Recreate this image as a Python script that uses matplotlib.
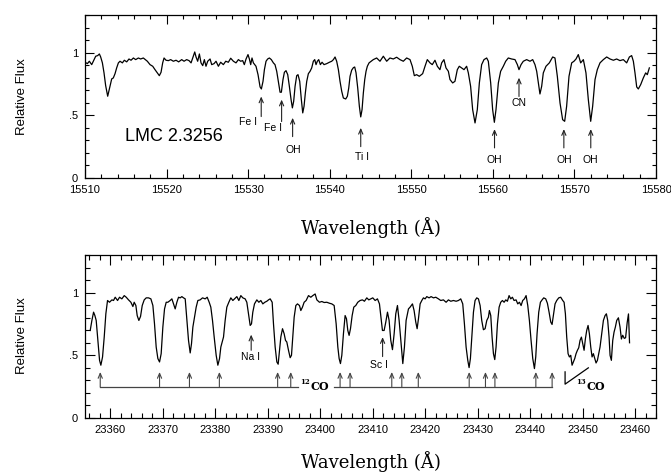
import matplotlib
matplotlib.use("Agg")
import matplotlib.pyplot as plt
from matplotlib.ticker import MultipleLocator, FixedLocator, FormatStrFormatter, FuncFormatter

plt.rcParams['font.family'] = ['Liberation Sans', 'DejaVu Sans']

# H-band spectrum, LMC 2.3256
h_wave = [
    15510.00, 15510.29, 15510.53, 15510.82, 15511.02, 15511.31, 15511.55, 15511.76, 15511.92, 15512.13,
    15512.33, 15512.53, 15512.78, 15513.02, 15513.27, 15513.47, 15513.68, 15513.88, 15514.09, 15514.29,
    15514.58, 15514.82, 15515.11, 15515.39, 15515.64, 15515.93, 15516.21, 15516.54, 15516.82, 15517.15,
    15517.40, 15517.64, 15517.97, 15518.30, 15518.58, 15518.87, 15519.11, 15519.32, 15519.52, 15519.69,
    15519.93, 15520.22, 15520.50, 15520.83, 15521.16, 15521.48, 15521.85, 15522.14, 15522.46, 15522.75,
    15523.00, 15523.20, 15523.45, 15523.61, 15523.81, 15524.02, 15524.22, 15524.43, 15524.63, 15524.83,
    15525.04, 15525.33, 15525.53, 15525.82, 15526.06, 15526.35, 15526.63, 15526.96, 15527.25, 15527.57,
    15527.86, 15528.19, 15528.51, 15528.80, 15529.08, 15529.33, 15529.53, 15529.74, 15529.98, 15530.15,
    15530.31, 15530.47, 15530.64, 15530.96, 15531.21, 15531.46, 15531.62, 15531.82, 15531.99, 15532.19,
    15532.39, 15532.60, 15532.84, 15533.09, 15533.29, 15533.50, 15533.70, 15533.91, 15534.07, 15534.27,
    15534.44, 15534.64, 15534.85, 15535.05, 15535.26, 15535.42, 15535.58, 15535.75, 15535.95, 15536.11,
    15536.32, 15536.52, 15536.69, 15536.85, 15537.01, 15537.18, 15537.38, 15537.59, 15537.79, 15537.99,
    15538.16, 15538.32, 15538.48, 15538.65, 15538.85, 15539.06, 15539.30, 15539.63, 15539.96, 15540.24,
    15540.45, 15540.65, 15540.85, 15541.06, 15541.26, 15541.47, 15541.67, 15541.96, 15542.16, 15542.33,
    15542.49, 15542.69, 15542.90, 15543.06, 15543.22, 15543.43, 15543.63, 15543.80, 15543.96, 15544.12,
    15544.29, 15544.45, 15544.61, 15544.82, 15545.34, 15545.75, 15546.16, 15546.57, 15546.98, 15547.38,
    15547.79, 15548.20, 15548.61, 15549.02, 15549.43, 15549.84, 15550.12, 15550.37, 15550.65, 15550.98,
    15551.39, 15551.68, 15551.96, 15552.29, 15552.57, 15552.90, 15553.19, 15553.51, 15553.72, 15554.00,
    15554.25, 15554.54, 15554.74, 15555.07, 15555.35, 15555.64, 15555.88, 15556.17, 15556.46, 15556.78,
    15556.99, 15557.27, 15557.52, 15557.81, 15558.09, 15558.34, 15558.62, 15558.91, 15559.24, 15559.44,
    15559.73, 15559.97, 15560.18, 15560.38, 15560.67, 15560.95, 15561.28, 15561.57, 15561.89, 15562.30,
    15562.71, 15563.00, 15563.20, 15563.45, 15563.73, 15564.14, 15564.55, 15564.88, 15565.16, 15565.37,
    15565.57, 15565.77, 15565.98, 15566.18, 15566.51, 15566.92, 15567.33, 15567.61, 15567.90, 15568.23,
    15568.55, 15568.80, 15569.04, 15569.33, 15569.66, 15569.94, 15570.19, 15570.47, 15570.76, 15571.09,
    15571.41, 15571.70, 15571.99, 15572.23, 15572.52, 15572.80, 15573.13, 15573.54, 15573.95, 15574.36,
    15574.77, 15575.17, 15575.58, 15575.99, 15576.40, 15576.73, 15577.01, 15577.22, 15577.42, 15577.63,
    15577.83, 15578.12, 15578.44, 15578.73, 15578.93, 15579.18,
]
h_flux = [
    0.923, 0.912, 0.931, 0.904, 0.931, 0.971, 0.976, 0.989, 0.965, 0.918,
    0.838, 0.737, 0.652, 0.718, 0.790, 0.798, 0.832, 0.878, 0.918, 0.931,
    0.918, 0.939, 0.926, 0.949, 0.939, 0.957, 0.944, 0.957, 0.949, 0.957,
    0.944, 0.931, 0.904, 0.891, 0.864, 0.838, 0.816, 0.843, 0.918, 0.957,
    0.939, 0.936, 0.944, 0.931, 0.939, 0.926, 0.944, 0.931, 0.944, 0.936,
    0.918, 0.957, 1.005, 0.965, 0.931, 0.989, 0.918, 0.896, 0.944, 0.891,
    0.931, 0.949, 0.904, 0.912, 0.931, 0.891, 0.923, 0.904, 0.931, 0.923,
    0.955, 0.931, 0.918, 0.944, 0.931, 0.936, 0.904, 0.949, 0.984, 0.949,
    0.904, 0.957, 0.918, 0.891, 0.824, 0.726, 0.710, 0.771, 0.864, 0.931,
    0.949, 0.957, 0.944, 0.918, 0.904, 0.851, 0.771, 0.684, 0.684, 0.785,
    0.843, 0.856, 0.824, 0.731, 0.625, 0.559, 0.612, 0.731, 0.816, 0.824,
    0.771, 0.625, 0.519, 0.572, 0.678, 0.771, 0.832, 0.851, 0.878, 0.931,
    0.944, 0.904, 0.931, 0.944, 0.904, 0.923, 0.904, 0.912, 0.923, 0.931,
    0.944, 0.965, 0.931, 0.864, 0.771, 0.691, 0.638, 0.630, 0.652, 0.718,
    0.811, 0.860, 0.880, 0.885, 0.840, 0.718, 0.572, 0.487, 0.545, 0.678,
    0.785, 0.851, 0.891, 0.918, 0.944, 0.957, 0.931, 0.971, 0.931, 0.957,
    0.949, 0.963, 0.944, 0.931, 0.957, 0.944, 0.891, 0.816, 0.824, 0.811,
    0.832, 0.891, 0.944, 0.918, 0.904, 0.939, 0.891, 0.864, 0.918, 0.944,
    0.878, 0.851, 0.785, 0.758, 0.771, 0.864, 0.891, 0.878, 0.864, 0.891,
    0.838, 0.731, 0.545, 0.439, 0.545, 0.758, 0.904, 0.944, 0.957, 0.931,
    0.758, 0.545, 0.444, 0.545, 0.758, 0.851, 0.891, 0.931, 0.957, 0.949,
    0.944, 0.904, 0.864, 0.904, 0.931, 0.944, 0.931, 0.944, 0.904, 0.851,
    0.758, 0.670, 0.731, 0.838, 0.891, 0.918, 0.965, 0.957, 0.811, 0.598,
    0.465, 0.452, 0.572, 0.811, 0.918, 0.931, 0.949, 0.984, 0.918, 0.944,
    0.838, 0.625, 0.452, 0.572, 0.785, 0.864, 0.918, 0.944, 0.965, 0.949,
    0.939, 0.949, 0.936, 0.944, 0.918, 0.965, 0.976, 0.931, 0.838, 0.726,
    0.710, 0.745, 0.798, 0.838, 0.824, 0.878,
]

# K-band spectrum around the CO bandheads
k_wave = [
    23356.19, 23356.51, 23356.83, 23357.08, 23357.33, 23357.65, 23357.97, 23358.22, 23358.54, 23358.86,
    23359.17, 23359.49, 23359.87, 23360.32, 23360.63, 23360.95, 23361.40, 23361.78, 23362.22, 23362.67,
    23363.05, 23363.49, 23363.94, 23364.32, 23364.57, 23364.89, 23365.14, 23365.46, 23365.78, 23366.10,
    23366.48, 23366.86, 23367.30, 23367.75, 23368.13, 23368.44, 23368.76, 23369.08, 23369.40, 23369.71,
    23370.03, 23370.35, 23370.67, 23370.98, 23371.43, 23371.75, 23372.06, 23372.38, 23372.70, 23373.02,
    23373.33, 23373.65, 23373.97, 23374.29, 23374.60, 23374.92, 23375.24, 23375.49, 23375.75, 23376.06,
    23376.38, 23376.70, 23377.14, 23377.59, 23378.10, 23378.48, 23378.86, 23379.17, 23379.49, 23379.81,
    23380.19, 23380.51, 23380.83, 23381.08, 23381.33, 23381.59, 23381.90, 23382.22, 23382.60, 23382.98,
    23383.37, 23383.68, 23384.13, 23384.51, 23384.89, 23385.27, 23385.71, 23386.03, 23386.35, 23386.67,
    23386.92, 23387.17, 23387.49, 23387.94, 23388.32, 23388.70, 23389.08, 23389.46, 23389.84, 23390.16,
    23390.48, 23390.86, 23391.11, 23391.43, 23391.75, 23392.00, 23392.25, 23392.51, 23392.83, 23393.14,
    23393.40, 23393.65, 23393.97, 23394.29, 23394.54, 23394.79, 23395.05, 23395.37, 23395.68, 23396.06,
    23396.32, 23396.63, 23396.95, 23397.33, 23397.78, 23398.22, 23398.60, 23399.05, 23399.37, 23399.87,
    23400.32, 23400.76, 23401.27, 23401.78, 23402.22, 23402.67, 23403.05, 23403.37, 23403.62, 23403.87,
    23404.13, 23404.44, 23404.76, 23405.02, 23405.27, 23405.52, 23405.78, 23406.10, 23406.41, 23406.79,
    23407.17, 23407.62, 23408.06, 23408.44, 23408.89, 23409.27, 23410.03, 23410.48, 23410.92, 23411.30,
    23411.62, 23411.87, 23412.19, 23412.51, 23412.83, 23413.14, 23413.46, 23413.78, 23414.10, 23414.41,
    23414.73, 23415.05, 23415.43, 23415.75, 23416.06, 23416.38, 23416.83, 23417.14, 23417.59, 23417.90,
    23418.22, 23418.48, 23418.73, 23419.05, 23419.37, 23419.68, 23420.00, 23420.32, 23420.76, 23421.14,
    23421.59, 23422.03, 23422.54, 23422.98, 23423.49, 23424.00, 23424.44, 23424.89, 23425.40, 23425.90,
    23426.35, 23426.79, 23427.17, 23427.49, 23427.81, 23428.13, 23428.38, 23428.63, 23428.89, 23429.21,
    23429.52, 23429.84, 23430.16, 23430.48, 23430.79, 23431.11, 23431.43, 23431.75, 23432.06, 23432.25,
    23432.51, 23432.76, 23433.02, 23433.27, 23433.52, 23433.78, 23434.10, 23434.41, 23434.73, 23435.05,
    23435.37, 23435.68, 23436.00, 23436.32, 23436.63, 23436.95, 23437.33, 23437.65, 23437.97, 23438.29,
    23438.60, 23438.92, 23439.24, 23439.56, 23439.87, 23440.19, 23440.51, 23440.83, 23441.08, 23441.33,
    23441.65, 23441.97, 23442.29, 23442.60, 23442.98, 23443.30, 23443.62, 23443.94, 23444.19, 23444.44,
    23444.76, 23445.08, 23445.46, 23445.84, 23446.22, 23446.48, 23446.73, 23446.98, 23447.24, 23447.49,
    23447.75, 23448.00, 23448.25, 23448.51, 23448.76, 23449.02, 23449.27, 23449.52, 23449.78, 23450.03,
    23450.29, 23450.54, 23450.79, 23451.05, 23451.30, 23451.56, 23451.81, 23452.06, 23452.32, 23452.57,
    23452.83, 23453.08, 23453.33, 23453.65, 23453.97, 23454.29, 23454.54, 23454.79, 23455.05, 23455.24,
    23455.49, 23455.75, 23456.00, 23456.25, 23456.51, 23456.83, 23457.14, 23457.40, 23457.65, 23457.95,
    23458.20, 23458.50, 23458.75, 23458.95,
]
k_flux = [
    0.698, 0.778, 0.844, 0.817, 0.778, 0.619, 0.460, 0.421, 0.487, 0.646,
    0.831, 0.937, 0.923, 0.942, 0.937, 0.963, 0.937, 0.963, 0.950, 0.976,
    0.963, 0.942, 0.923, 0.889, 0.923, 0.897, 0.817, 0.778, 0.810, 0.897,
    0.942, 0.958, 0.958, 0.950, 0.897, 0.751, 0.566, 0.474, 0.447, 0.513,
    0.725, 0.870, 0.923, 0.923, 0.937, 0.950, 0.910, 0.870, 0.923, 0.963,
    0.958, 0.968, 0.958, 0.950, 0.791, 0.619, 0.519, 0.593, 0.725, 0.804,
    0.884, 0.937, 0.942, 0.958, 0.950, 0.963, 0.923, 0.884, 0.778, 0.646,
    0.500, 0.421, 0.474, 0.566, 0.606, 0.646, 0.778, 0.884, 0.923, 0.958,
    0.937, 0.950, 0.968, 0.937, 0.976, 0.958, 0.950, 0.923, 0.831, 0.738,
    0.751, 0.844, 0.910, 0.942, 0.923, 0.937, 0.910, 0.923, 0.931, 0.942,
    0.950, 0.923, 0.751, 0.566, 0.447, 0.429, 0.540, 0.646, 0.712, 0.672,
    0.619, 0.606, 0.540, 0.481, 0.500, 0.646, 0.804, 0.897, 0.910, 0.897,
    0.857, 0.884, 0.923, 0.937, 0.976, 0.963, 0.976, 0.989, 0.942, 0.923,
    0.929, 0.921, 0.923, 0.915, 0.910, 0.897, 0.751, 0.566, 0.474, 0.434,
    0.500, 0.672, 0.817, 0.791, 0.698, 0.659, 0.712, 0.817, 0.884, 0.897,
    0.923, 0.937, 0.942, 0.931, 0.958, 0.942, 0.958, 0.937, 0.950, 0.910,
    0.791, 0.698, 0.698, 0.765, 0.844, 0.778, 0.619, 0.545, 0.672, 0.831,
    0.897, 0.778, 0.593, 0.434, 0.566, 0.778, 0.870, 0.884, 0.910, 0.857,
    0.765, 0.712, 0.791, 0.910, 0.937, 0.958, 0.950, 0.968, 0.958, 0.968,
    0.958, 0.963, 0.950, 0.937, 0.942, 0.923, 0.942, 0.931, 0.937, 0.931,
    0.937, 0.950, 0.910, 0.751, 0.566, 0.460, 0.402, 0.474, 0.646, 0.844,
    0.937, 0.958, 0.950, 0.897, 0.778, 0.704, 0.712, 0.778, 0.804, 0.857,
    0.817, 0.646, 0.513, 0.466, 0.566, 0.751, 0.884, 0.923, 0.937, 0.923,
    0.942, 0.931, 0.976, 0.950, 0.963, 0.937, 0.942, 0.910, 0.923, 0.897,
    0.937, 0.950, 0.976, 0.897, 0.778, 0.619, 0.474, 0.394, 0.487, 0.672,
    0.844, 0.923, 0.942, 0.958, 0.950, 0.915, 0.844, 0.765, 0.746, 0.817,
    0.910, 0.937, 0.958, 0.963, 0.937, 0.923, 0.831, 0.646, 0.513, 0.487,
    0.500, 0.421, 0.447, 0.474, 0.513, 0.540, 0.560, 0.619, 0.645, 0.593,
    0.540, 0.632, 0.698, 0.738, 0.672, 0.566, 0.487, 0.513, 0.474, 0.439,
    0.460, 0.513, 0.566, 0.672, 0.778, 0.817, 0.831, 0.778, 0.646, 0.500,
    0.460, 0.619, 0.685, 0.725, 0.778, 0.799, 0.725, 0.630, 0.660, 0.635,
    0.640, 0.760, 0.830, 0.600,
]

# line identifications: (label, wavelength, arrow tail, arrow head, label x, label y)
h_lines = [
    ("Fe I", 15531.6, 0.49, 0.65, 15530.0, 0.45),
    ("Fe I", 15534.1, 0.45, 0.625, 15533.1, 0.40),
    ("OH", 15535.45, 0.33, 0.48, 15535.5, 0.22),
    ("Ti I", 15543.8, 0.25, 0.40, 15543.9, 0.17),
    ("CN", 15563.2, 0.65, 0.80, 15563.2, 0.60),
    ("OH", 15560.2, 0.24, 0.39, 15560.2, 0.146),
    ("OH", 15568.7, 0.24, 0.39, 15568.7, 0.146),
    ("OH", 15572.0, 0.24, 0.39, 15572.0, 0.146),
]
k_lines = [
    ("Na I", 23386.86, 0.54, 0.665, 23386.8, 0.49),
    ("Sc I", 23411.9, 0.49, 0.645, 23411.2, 0.42),
]
co12_first = [23358.1, 23369.4, 23375.1, 23380.8, 23391.9, 23394.4]
co12_second = [23403.8, 23405.7, 23413.65, 23415.56, 23418.7, 23428.4, 23431.5, 23433.3, 23441.1, 23444.2]
co_base, co_tip = 0.248, 0.367

fig = plt.figure(figsize=(6.71, 4.74), dpi=100)
ax1 = fig.add_axes([0.1267, 0.6245, 0.851, 0.3439])
ax2 = fig.add_axes([0.1267, 0.1181, 0.851, 0.344])

ylab = {0.0: "0", 0.5: ".5", 1.0: "1"}


def style(ax, xlim, major, minor):
    ax.set_xlim(*xlim)
    ax.set_ylim(0, 1.3)
    ax.xaxis.set_major_locator(MultipleLocator(10))
    ax.xaxis.set_minor_locator(MultipleLocator(2))
    ax.xaxis.set_major_formatter(FormatStrFormatter("%d"))
    ax.yaxis.set_major_locator(FixedLocator([0, 0.5, 1.0]))
    ax.yaxis.set_minor_locator(MultipleLocator(0.1))
    ax.yaxis.set_major_formatter(FuncFormatter(lambda v, p: ylab.get(round(v, 1), "")))
    ax.tick_params(which="both", direction="in", top=True, right=True,
                   width=0.8, labelsize=8, pad=5)
    ax.tick_params(which="major", length=major)
    ax.tick_params(which="minor", length=minor)
    for s in ax.spines.values():
        s.set_linewidth(0.9)


def arrow(ax, x, y0, y1, color="#222222"):
    ax.annotate("", xy=(x, y1), xytext=(x, y0),
                arrowprops=dict(arrowstyle="->,head_length=0.35,head_width=0.15",
                                lw=0.8, color=color, shrinkA=0, shrinkB=0))


def co_label(ax, x, y, iso):
    # small isotope number raised to the left of a bold "CO"
    ax.text(x - 0.15, y + 0.035, iso, fontsize=5, fontweight="bold",
            family="DejaVu Serif", ha="right", va="center")
    ax.text(x, y, "CO", fontsize=8, fontweight="bold",
            family="DejaVu Serif", ha="left", va="center")


style(ax1, (15510, 15580), 6.5, 3.2)
style(ax2, (23355.2, 23464.0), 7.0, 3.6)

ax1.plot(h_wave, h_flux, color="black", lw=0.9)
ax2.plot(k_wave, k_flux, color="black", lw=0.9)

for name, x, y0, y1, tx, ty in h_lines:
    arrow(ax1, x, y0, y1)
    ax1.text(tx, ty, name, fontsize=7.5, ha="center", va="center")

ax1.text(15520.9, 0.33, "LMC 2.3256", fontsize=13, ha="center", va="center")

for name, x, y0, y1, tx, ty in k_lines:
    arrow(ax2, x, y0, y1)
    ax2.text(tx, ty, name, fontsize=7.5, ha="center", va="center")

# 12CO bandhead ladders
gray = "#444444"
ax2.plot([co12_first[0], 23395.7], [co_base, co_base], color=gray, lw=0.9)
ax2.plot([23402.7, co12_second[-1]], [co_base, co_base], color=gray, lw=0.9)
for x in co12_first + co12_second:
    arrow(ax2, x, co_base, co_tip, color=gray)
co_label(ax2, 23398.2, 0.25, "12")

# 13CO marker
ax2.plot([23446.67, 23446.67, 23451.1], [0.368, 0.27, 0.40], color="black", lw=0.9)
co_label(ax2, 23450.7, 0.25, "13")

for yc, ylc in [(1 - 228 / 474, 1 - 97 / 474), (1 - 462 / 474, 1 - 336 / 474)]:
    fig.text(0.5522, yc, "Wavelength (Å)", family="DejaVu Serif", fontsize=13,
             ha="center", va="center")
    fig.text(22 / 671, ylc, "Relative Flux", fontsize=9.5, rotation=90,
             ha="center", va="center")

fig.savefig("out.png", dpi=100)
